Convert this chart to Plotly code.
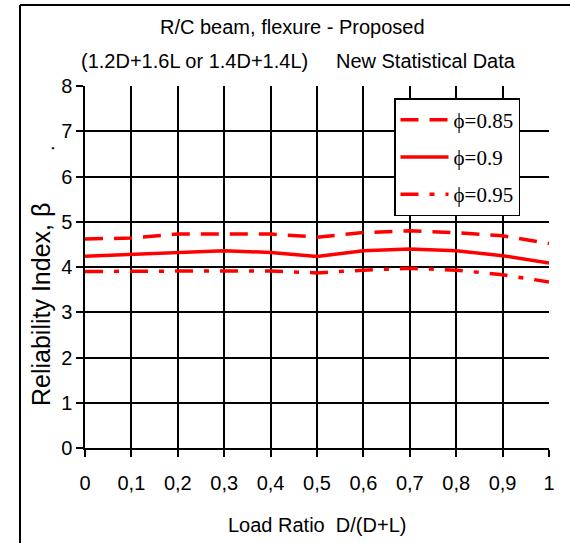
import plotly.graph_objects as go

load_ratio = [0, 0.1, 0.2, 0.3, 0.4, 0.5, 0.6, 0.7, 0.8, 0.9, 1.0]
tick_labels = ["0", "0,1", "0,2", "0,3", "0,4", "0,5", "0,6", "0,7", "0,8", "0,9", "1"]
beta_085 = [4.62, 4.64, 4.73, 4.73, 4.73, 4.66, 4.76, 4.80, 4.76, 4.69, 4.52]
beta_090 = [4.24, 4.28, 4.32, 4.36, 4.32, 4.23, 4.36, 4.40, 4.36, 4.25, 4.09]
beta_095 = [3.90, 3.91, 3.91, 3.91, 3.91, 3.87, 3.93, 3.97, 3.93, 3.83, 3.67]
names = ["\u03d5=0.85", "\u03d5=0.9", "\u03d5=0.95"]

W, H = 570, 543
L, R, T, B = 85, 549, 86, 448

def px(x):
    return (x - L) / (R - L)

def py(y):
    return (B - y) / (B - T)

sans = "Liberation Sans, Arial, sans-serif"
serif = "Liberation Serif, Times New Roman, serif"

fig = go.Figure()
styles = ["18px,11px", "solid", "18px,11px,5px,11px"]
for i, (vals, nm) in enumerate(zip([beta_085, beta_090, beta_095], names)):
    fig.add_trace(go.Scatter(
        x=load_ratio, y=vals, mode="lines", name=nm,
        legendgroup=f"g{i}",
        line=dict(color="#ff0000", width=3.5, dash=styles[i]),
    ))

def note(text, x, y, size, angle=0):
    return dict(text=text, x=px(x), y=py(y), xref="paper", yref="paper",
                xanchor="center", yanchor="middle", showarrow=False,
                textangle=angle, font=dict(family=sans, size=size, color="black"))

fig.update_layout(
    width=W, height=H,
    margin=dict(l=L, r=W - R, t=T, b=H - B),
    plot_bgcolor="white", paper_bgcolor="white",
    showlegend=True,
    legend=dict(
        x=px(394), y=py(98), xanchor="left", yanchor="top",
        bgcolor="white", bordercolor="black", borderwidth=1.5,
        font=dict(family=serif, size=21, color="black"),
        tracegroupgap=7, itemwidth=48,
    ),
    xaxis=dict(
        range=[0, 1], tickvals=load_ratio, ticktext=tick_labels,
        showgrid=True, gridcolor="black", gridwidth=1.5,
        showline=True, linecolor="black", linewidth=1.5, mirror=False,
        ticks="outside", ticklen=7, tickcolor="black", tickwidth=1.5,
        ticklabelstandoff=9,
        tickfont=dict(family=sans, size=20, color="black"),
        zeroline=False, fixedrange=True,
    ),
    yaxis=dict(
        range=[0, 8], dtick=1, tick0=0,
        showgrid=True, gridcolor="black", gridwidth=1.5,
        showline=True, linecolor="black", linewidth=1.5,
        ticks="outside", ticklen=7, tickcolor="black", tickwidth=1.5,
        tickfont=dict(family=sans, size=20, color="black"),
        zeroline=False, fixedrange=True,
    ),
    annotations=[
        note("R/C beam, flexure - Proposed", 292, 27, 20),
        note("(1.2D+1.6L or 1.4D+1.4L)     New Statistical Data", 298, 61, 20),
        note("Load Ratio  D/(D+L)", 317, 525, 20),
        note("Reliability Index, \u03b2", 41, 305, 25, -90),
        note(".", 47, 148, 20, -90),
    ],
    shapes=[
        dict(type="line", xref="paper", yref="paper",
             x0=px(20), x1=px(20), y0=py(5), y1=py(560),
             line=dict(color="black", width=2)),
        dict(type="line", xref="paper", yref="paper",
             x0=px(20), x1=px(600), y0=py(5), y1=py(5),
             line=dict(color="black", width=2)),
    ],
)

fig.write_html("out.html", config={"displayModeBar": False},
               post_script="document.body.style.margin='0';")
